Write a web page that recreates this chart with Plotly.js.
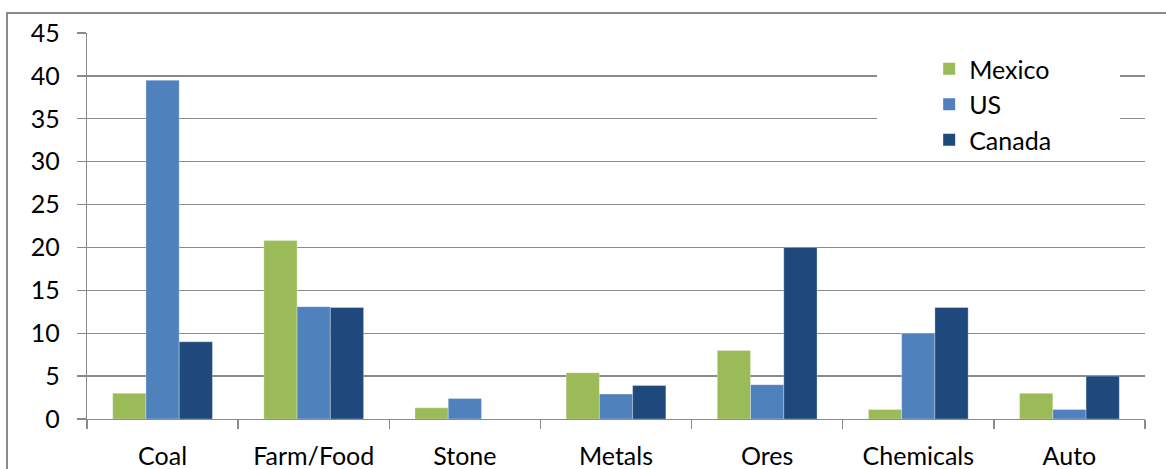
<!DOCTYPE html>
<html><head><meta charset="utf-8">
<script src="https://cdn.plot.ly/plotly-3.0.1.min.js"></script>
<style>
html,body{margin:0;padding:0;background:#fff;overflow:hidden;}
#chart{position:absolute;left:0;top:0;width:1166px;height:469px;}
#frame{position:absolute;left:6px;top:12px;width:1200px;height:500px;border-left:2px solid #8a8a8a;border-top:2px solid #8a8a8a;pointer-events:none;}
</style></head>
<body>
<div id="chart"></div>
<div id="frame"></div>
<script>
const categories = ["Coal","Farm/Food","Stone","Metals","Ores","Chemicals","Auto"];
const mexico = [3.0, 20.8, 1.3, 5.4, 8.0, 1.1, 3.0];
const us     = [39.5, 13.1, 2.4, 2.9, 4.0, 10.0, 1.1];
const canada = [9.0, 13.0, 0, 3.9, 20.0, 13.0, 5.0];
const yTicks = [0,5,10,15,20,25,30,35,40,45];
const seriesNames = ["Mexico","US","Canada"];
const seriesColors = ["#9BBB59","#4F81BD","#1F497D"];

const font = "Lato, 'Open Sans', sans-serif";
const seriesVals = [mexico, us, canada];
const data = [];
seriesNames.forEach((n,i)=>{
  data.push({type:'bar', name:n, x:categories, y:seriesVals[i], showlegend:false,
    marker:{color:seriesColors[i], line:{color:'rgba(255,255,255,0.5)', width:0.6}}});
});
seriesNames.forEach((n,i)=>{
  data.push({type:'scatter', mode:'markers', name:n, x:[null], y:[null], legendgroup:n,
    marker:{symbol:'square', size:16, color:seriesColors[i]}, hoverinfo:'skip'});
});
const layout = {
  width:1166, height:469,
  margin:{l:87, r:21, t:33, b:50, pad:0},
  paper_bgcolor:'#fff', plot_bgcolor:'#fff',
  barmode:'group', bargap:0.34, bargroupgap:0,
  font:{family:font, size:25, color:'#000'},
  showlegend:true,
  legend:{x:0.796, y:0.966, xanchor:'left', yanchor:'top', bgcolor:'rgba(0,0,0,0)',
    font:{family:font, size:25, color:'#000'}, tracegroupgap:0, traceorder:'grouped', itemsizing:'constant'},
  shapes:[{type:'rect', xref:'paper', yref:'paper', x0:0.7467, x1:0.9764, y0:0.697, y1:0.969,
    fillcolor:'#fff', line:{width:0}, layer:'above'}],
  xaxis:{type:'category', tickson:'boundaries', ticks:'outside', ticklen:9, tickwidth:1.3,
    tickcolor:'#8a8a8a', showline:true, linecolor:'#8a8a8a', linewidth:1.3,
    showgrid:false, ticklabelstandoff:15, tickfont:{family:font,size:25,color:'#000'}, fixedrange:true},
  yaxis:{range:[0,45], tickvals:yTicks, ticktext:yTicks.map(String), ticks:'outside', ticklen:9,
    tickwidth:1.3, tickcolor:'#8a8a8a', showline:true, linecolor:'#8a8a8a', linewidth:1.3,
    showgrid:true, gridcolor:'#8a8a8a', gridwidth:1.3, zeroline:false, ticklabelstandoff:12,
    tickfont:{family:font,size:25,color:'#000'}, fixedrange:true}
};
Plotly.newPlot('chart', data, layout, {displayModeBar:false, staticPlot:true});
</script>
</body></html>
